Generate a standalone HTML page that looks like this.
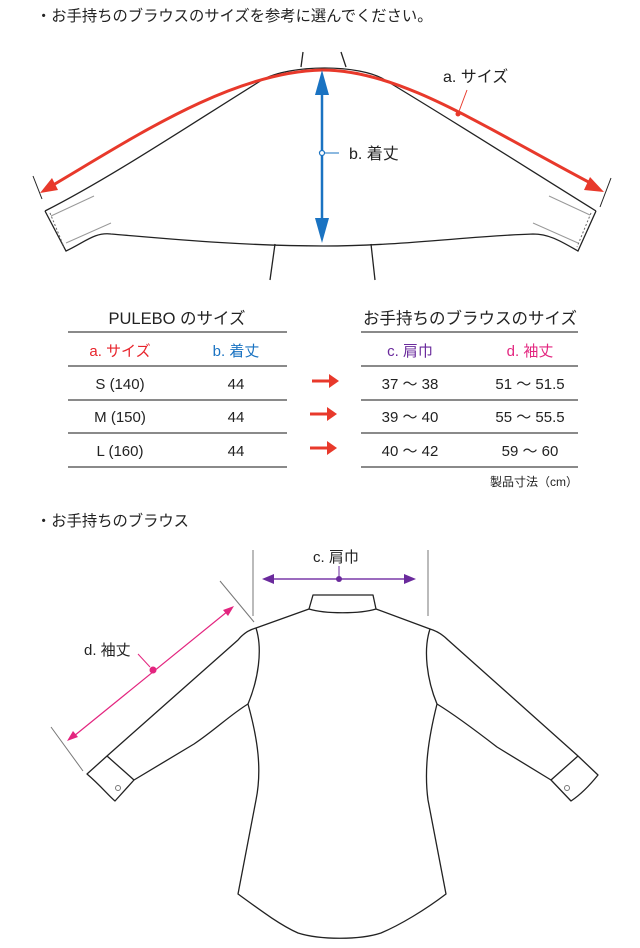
<!DOCTYPE html>
<html><head><meta charset="utf-8"><style>
html,body{margin:0;padding:0;background:#fff;}
svg{display:block;}
text{font-family:"Liberation Sans","Noto Sans CJK JP",sans-serif;}
</style></head><body>
<svg width="640" height="948" viewBox="0 0 640 948" xmlns="http://www.w3.org/2000/svg">
<text x="36" y="21" font-size="15.3" fill="#222">・お手持ちのブラウスのサイズを参考に選んでください。</text>

<!-- top diagram -->
<g fill="none" stroke="#222" stroke-width="1.3">
<path d="M303,52 L301,67"/><path d="M341,52 L346,67"/>
<path d="M45,211 C110,178 185,128 262,80 C290,64 360,64 385,80 C455,122 530,170 596,211"/>
<path d="M45,211 L66,251 C85,242 95,232 111,234 C160,238 240,246 324,246 C400,246 470,236 533,234 C550,234 562,242 578,251 L596,211"/>
<path d="M275,244 L270,280"/><path d="M371,244 L375,280"/>
</g>
<g stroke="#999" stroke-width="1" fill="none">
<path d="M51,216 L94,196"/><path d="M66,243 L111,223"/>
<path d="M549,196 L590,215"/><path d="M533,223 L578,243"/>
<path d="M50,213 L64,247" stroke-dasharray="2,2" stroke="#666"/>
<path d="M591,213 L577,247" stroke-dasharray="2,2" stroke="#666"/>
</g>
<g stroke="#222" stroke-width="1"><path d="M33,176 L42,199"/><path d="M611,178 L600,207"/></g>
<path d="M48,188 C130,140 230,72 322,70 C400,70 480,125 596,186" fill="none" stroke="#e8392b" stroke-width="3"/>
<path d="M40,193 L52,178 L58,190 Z" fill="#e8392b"/>
<path d="M604,192 L590,177 L584,190 Z" fill="#e8392b"/>
<circle cx="458" cy="114" r="2.5" fill="#e8392b"/>
<path d="M458,114 L467,90" stroke="#e8392b" stroke-width="1"/>
<text x="443" y="82" font-size="16" fill="#222">a. サイズ</text>
<path d="M322,90 L322,225" stroke="#1a73c2" stroke-width="2.5"/>
<path d="M322,70 L315,95 L329,95 Z" fill="#1a73c2"/>
<path d="M322,243 L315,218 L329,218 Z" fill="#1a73c2"/>
<circle cx="322" cy="153" r="2.5" fill="#fff" stroke="#1a73c2" stroke-width="1.2"/>
<path d="M324,153 L339,153" stroke="#1a73c2" stroke-width="1"/>
<text x="349" y="159" font-size="16" fill="#222">b. 着丈</text>

<!-- tables -->
<g stroke="#444" stroke-width="1.3">
<path d="M68,332 H287 M68,366 H287 M68,400 H287 M68,433 H287 M68,467 H287"/>
<path d="M361,332 H578 M361,366 H578 M361,400 H578 M361,433 H578 M361,467 H578"/>
</g>
<g font-size="15" text-anchor="middle" fill="#222">
<text x="177" y="324" font-size="16.5">PULEBO のサイズ</text>
<text x="470" y="324" font-size="16.5">お手持ちのブラウスのサイズ</text>
<text x="120" y="356" fill="#e8242c">a. サイズ</text>
<text x="236" y="356" fill="#1a73c2">b. 着丈</text>
<text x="410" y="356" fill="#6a2a9c">c. 肩巾</text>
<text x="530" y="356" fill="#e3257f">d. 袖丈</text>
<text x="120" y="389">S (140)</text><text x="236" y="389">44</text>
<text x="120" y="422">M (150)</text><text x="236" y="422">44</text>
<text x="120" y="456">L (160)</text><text x="236" y="456">44</text>
<text x="410" y="389">37 ～ 38</text><text x="530" y="389">51 ～ 51.5</text>
<text x="410" y="422">39 ～ 40</text><text x="530" y="422">55 ～ 55.5</text>
<text x="410" y="456">40 ～ 42</text><text x="530" y="456">59 ～ 60</text>
</g>
<text x="578" y="486" font-size="12" text-anchor="end" fill="#222">製品寸法（cm）</text>
<g stroke="#e8392b" stroke-width="3" fill="none">
<path d="M312,381 H331"/><path d="M310,414 H329"/><path d="M310,448 H329"/>
</g>
<g fill="#e8392b">
<path d="M339,381 L329,374 L329,388 Z"/><path d="M337,414 L327,407 L327,421 Z"/><path d="M337,448 L327,441 L327,455 Z"/>
</g>

<text x="36" y="526" font-size="15.3" fill="#222">・お手持ちのブラウス</text>

<!-- shirt -->
<g fill="none" stroke="#222" stroke-width="1.3" stroke-linejoin="round">
<path d="M309,609 L313,595 L373,595 L376,609 C360,614 325,614 309,609 Z"/>
<path d="M309,609 L256,628 C263,650 258,680 248,704 C258,740 262,770 256,800 L238,894 C260,910 280,925 298,933 C320,940 360,940 381,933 C400,925 425,910 446,894 L428,800 C424,770 428,740 437,704 C427,680 423,650 430,629 L376,609"/>
<path d="M256,628 C248,630 242,635 238,640 L107,756 L87,774 C100,785 108,795 115,801 L134,780 L107,756"/>
<path d="M134,780 L194,744 C215,730 230,715 248,704"/>
<path d="M430,629 C437,631 443,635 448,640 L578,756 L598,775 C590,785 580,795 571,801 L551,780 L578,756"/>
<path d="M551,780 L497,747 C475,730 455,715 437,704"/>
</g>
<circle cx="118" cy="788" r="2.5" fill="none" stroke="#777" stroke-width="1"/>
<circle cx="567" cy="788" r="2.5" fill="none" stroke="#777" stroke-width="1"/>
<g stroke="#777" stroke-width="1">
<path d="M253,550 V616"/><path d="M428,550 V616"/>
<path d="M220,581 L254,622"/><path d="M51,727 L83,771"/>
</g>
<path d="M270,579 H407" stroke="#7a3aa8" stroke-width="1.5"/>
<path d="M262,579 L274,574 L274,584 Z" fill="#6a2a9c"/>
<path d="M416,579 L404,574 L404,584 Z" fill="#6a2a9c"/>
<circle cx="339" cy="579" r="3" fill="#6a2a9c"/>
<path d="M339,579 V566" stroke="#6a2a9c" stroke-width="1"/>
<text x="313" y="562" font-size="15" fill="#222">c. 肩巾</text>
<path d="M228,611 L74,736" stroke="#e3257f" stroke-width="1.2"/>
<path d="M234,606 L223,610 L228,616 Z" fill="#e3257f"/>
<path d="M67,741 L73,731 L78,737 Z" fill="#e3257f"/>
<circle cx="153" cy="670" r="3.5" fill="#e3257f"/>
<path d="M138,654 L150,667" stroke="#e3257f" stroke-width="1"/>
<text x="84" y="655" font-size="15" fill="#222">d. 袖丈</text>
</svg>
</body></html>
